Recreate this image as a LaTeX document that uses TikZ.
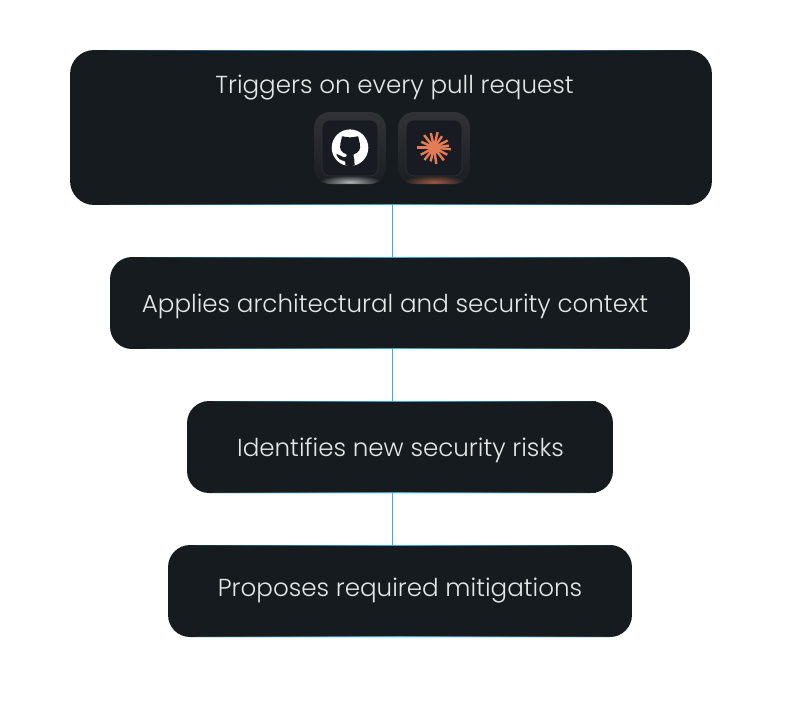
\documentclass[tikz,border=0pt]{standalone}
\usepackage{fontspec}
\usepackage{xcolor}
\usetikzlibrary{
arrows.meta,
positioning,
calc
}
\setmainfont{Poppins Light}
\definecolor{BoxDark}{HTML}{161B1F}
\definecolor{WireBlue}{HTML}{38ADD6}
\definecolor{LabelGray}{HTML}{E4E7E7}
\definecolor{IconBack}{HTML}{191B22}
\definecolor{IconRim}{HTML}{303236}
\definecolor{BurstOrange}{HTML}{E37C55}
\tikzset{
    stagebox/.style={fill=BoxDark, rounded corners=0.44cm, inner sep=0pt, minimum height=1.84cm},
    stagelabel/.style={text=LabelGray, font=\fontsize{14pt}{17pt}\selectfont, inner sep=0pt},
    wire/.style={WireBlue, line width=0.57pt}
}

\begin{document}
\begin{tikzpicture}[x=0.02cm,y=-0.02cm,>=Latex]
        \useasboundingbox (0,0) rectangle (800,700);
        \fill[white] (0,0) rectangle (800,700);
        \coordinate (spine) at (392,0);
        \node[stagebox, minimum width=12.84cm, minimum height=3.1cm, rounded corners=0.48cm] (trigger) at (391,127.5) {};
        \node[stagebox, minimum width=11.6cm] (context) at (400,303) {};
        \node[stagebox, minimum width=8.52cm] (risks) at (400,447) {};
        \node[stagebox, minimum width=9.28cm] (mitigate) at (400,591) {};
        \draw[wire] (trigger.south -| spine) -- (context.north -| spine);
        \draw[wire] (context.south -| spine) -- (risks.north -| spine);
        \draw[wire] (risks.south -| spine) -- (mitigate.north -| spine);
        % blue rims that fade towards the corners
        \foreach \b in {trigger,context,risks,mitigate}{
            \foreach \i in {3,...,46}{
                \pgfmathsetmacro{\mix}{100*(1-abs((\i+0.5)/24.5-1))}
                \draw[WireBlue!\mix!BoxDark, line width=0.57pt]
                    ($(\b.north west)!\i/49!(\b.north east)+(0,0.5)$) -- ($(\b.north west)!\i/49+0.0205!(\b.north east)+(0,0.5)$);
                \draw[WireBlue!\mix!BoxDark, line width=0.57pt]
                    ($(\b.south west)!\i/49!(\b.south east)+(0,-0.5)$) -- ($(\b.south west)!\i/49+0.0205!(\b.south east)+(0,-0.5)$);
            }
        }
        \node[stagelabel] (triggertext) at (394.5,88) {Triggers on every pull request};
        \node[stagelabel] (contexttext) at (395,306) {Applies architectural and security context};
        \node[stagelabel] (riskstext) at (400.5,450) {Identifies new security risks};
        \node[stagelabel] (mitigatetext) at (400,591) {Proposes required mitigations};
        % icon tiles
        \foreach \x/\glow in {314/white,398/BurstOrange}{
            \begin{scope}
                \clip[rounded corners=0.32cm] (\x,112) rectangle (\x+72,184);
                \shade[top color=IconRim, bottom color=BoxDark!85!IconRim] (\x,112) rectangle (\x+72,184);
                \shade[inner color=\glow!65!BoxDark, outer color=BoxDark!85!IconRim] (\x+36,182) ellipse (32 and 7);
            \end{scope}
            \draw[IconRim, fill=IconBack, line width=0.3pt, rounded corners=0.16cm] (\x+8,120) rectangle (\x+64,176);
        }
        % octocat
        \fill[white] (350,147.7) circle (18.3);
        \begin{scope}
            \clip (350,147.7) circle (18.3);
            \fill[IconBack, rounded corners=1.2pt, shift={(331.7,129.4)}, x=0.0458cm, y=-0.0458cm]
                (5.7,17) -- (6.02,15.2) -- (6.01,13.72) -- (3.9,13.6) -- (2.9,12.4) -- (1.7,10.7) -- (3,10.8)
                -- (4.3,12) -- (6.2,12.3) -- (6.9,10.95) -- (4.3,10) -- (3.44,7) -- (4.26,5) -- (4.34,2.73)
                -- (6.54,3.55) -- (8,3.3) -- (9.54,3.55) -- (11.74,2.73) -- (11.82,5) -- (12.64,7) -- (11.8,10)
                -- (9.2,10.95) -- (9.9,12.43) -- (9.9,15.2) -- (10.3,17) -- cycle;
        \end{scope}
        % sunburst
        \fill[BurstOrange] (434,147.7) circle (6);
        \foreach \a/\r in {5/17,28/15,52/16,82/16.5,104/14,128/15.5,152/15,180/17,205/14,232/16,258/15,283/16,305/14,332/15.5,352/15}{
            \draw[BurstOrange, line width=1.4pt] (434,147.7) -- ++(\a:\r);
        }
    \end{tikzpicture}
\end{document}
